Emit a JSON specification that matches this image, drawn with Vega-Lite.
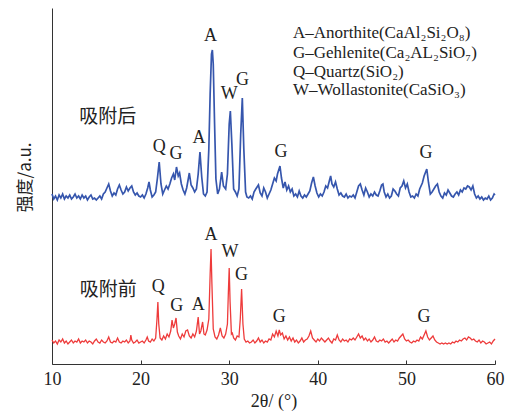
{
  "$schema": "https://vega.github.io/schema/vega-lite/v6.json",
  "width": 443,
  "height": 356,
  "autosize": {"type": "none"},
  "padding": {"left": 52, "top": 8, "right": 16, "bottom": 47},
  "background": "white",
  "config": {"view": {"stroke": null}},
  "datasets": {
    "blue": [
      {"x":10.0,"y":170},{"x":10.2,"y":165},{"x":10.4,"y":168},{"x":10.6,"y":164},{"x":10.8,"y":169},{"x":11.0,"y":166},{"x":11.2,"y":170},{"x":11.4,"y":165},{"x":11.6,"y":168},{"x":11.8,"y":166},
      {"x":12.0,"y":169},{"x":12.2,"y":165},{"x":12.4,"y":167},{"x":12.6,"y":170},{"x":12.8,"y":166},{"x":13.0,"y":168},{"x":13.2,"y":165},{"x":13.4,"y":169},{"x":13.6,"y":166},{"x":13.8,"y":168},
      {"x":14.0,"y":164},{"x":14.2,"y":167},{"x":14.4,"y":169},{"x":14.6,"y":165},{"x":14.8,"y":166},{"x":15.0,"y":164},{"x":15.2,"y":166},{"x":15.4,"y":168},{"x":15.6,"y":165},{"x":15.8,"y":170},
      {"x":16.0,"y":172},{"x":16.2,"y":176},{"x":16.4,"y":180},{"x":16.6,"y":173},{"x":16.8,"y":168},{"x":17.0,"y":171},{"x":17.2,"y":169},{"x":17.4,"y":175},{"x":17.6,"y":179},{"x":17.8,"y":174},
      {"x":18.0,"y":170},{"x":18.2,"y":172},{"x":18.4,"y":177},{"x":18.6,"y":173},{"x":18.8,"y":176},{"x":19.0,"y":178},{"x":19.2,"y":172},{"x":19.4,"y":169},{"x":19.6,"y":171},{"x":19.8,"y":168},
      {"x":20.0,"y":167},{"x":20.2,"y":169},{"x":20.4,"y":166},{"x":20.6,"y":170},{"x":20.8,"y":176},{"x":20.95,"y":182},{"x":21.1,"y":174},{"x":21.3,"y":167},{"x":21.5,"y":169},{"x":21.7,"y":172},
      {"x":21.9,"y":186},{"x":22.1,"y":202},{"x":22.3,"y":180},{"x":22.5,"y":170},{"x":22.7,"y":174},{"x":22.9,"y":178},{"x":23.1,"y":175},{"x":23.3,"y":180},{"x":23.5,"y":186},{"x":23.7,"y":190},
      {"x":23.85,"y":184},{"x":24.05,"y":197},{"x":24.25,"y":188},{"x":24.4,"y":191},{"x":24.6,"y":180},{"x":24.8,"y":174},{"x":25.0,"y":170},{"x":25.2,"y":176},{"x":25.5,"y":191},{"x":25.7,"y":179},
      {"x":25.9,"y":176},{"x":26.1,"y":172},{"x":26.3,"y":175},{"x":26.5,"y":190},{"x":26.7,"y":212},{"x":26.9,"y":187},{"x":27.1,"y":170},{"x":27.3,"y":168},{"x":27.5,"y":172},{"x":27.7,"y":215},
      {"x":27.85,"y":270},{"x":28.0,"y":310},{"x":28.1,"y":314},{"x":28.2,"y":300},{"x":28.35,"y":240},{"x":28.5,"y":185},{"x":28.7,"y":170},{"x":28.9,"y":175},{"x":29.15,"y":192},{"x":29.35,"y":178},
      {"x":29.6,"y":175},{"x":29.8,"y":190},{"x":30.0,"y":240},{"x":30.13,"y":253},{"x":30.3,"y":220},{"x":30.5,"y":175},{"x":30.7,"y":172},{"x":30.9,"y":168},{"x":31.1,"y":175},{"x":31.3,"y":230},
      {"x":31.48,"y":266},{"x":31.65,"y":215},{"x":31.85,"y":172},{"x":32.0,"y":167},{"x":32.2,"y":166},{"x":32.4,"y":168},{"x":32.6,"y":165},{"x":32.8,"y":172},{"x":33.0,"y":175},{"x":33.3,"y":179},
      {"x":33.5,"y":171},{"x":33.7,"y":168},{"x":33.9,"y":176},{"x":34.1,"y":172},{"x":34.3,"y":166},{"x":34.5,"y":170},{"x":34.7,"y":174},{"x":34.9,"y":180},{"x":35.1,"y":186},{"x":35.3,"y":183},
      {"x":35.45,"y":190},{"x":35.73,"y":198},{"x":35.9,"y":186},{"x":36.1,"y":176},{"x":36.3,"y":182},{"x":36.5,"y":174},{"x":36.7,"y":178},{"x":36.9,"y":172},{"x":37.1,"y":175},{"x":37.3,"y":168},
      {"x":37.5,"y":170},{"x":37.7,"y":167},{"x":37.9,"y":173},{"x":38.1,"y":168},{"x":38.3,"y":166},{"x":38.5,"y":169},{"x":38.7,"y":167},{"x":38.9,"y":170},{"x":39.1,"y":173},{"x":39.3,"y":181},
      {"x":39.5,"y":187},{"x":39.7,"y":178},{"x":39.9,"y":171},{"x":40.1,"y":167},{"x":40.3,"y":170},{"x":40.5,"y":168},{"x":40.7,"y":172},{"x":40.9,"y":178},{"x":41.1,"y":176},{"x":41.3,"y":183},
      {"x":41.45,"y":188},{"x":41.6,"y":180},{"x":41.8,"y":177},{"x":42.0,"y":182},{"x":42.2,"y":175},{"x":42.4,"y":169},{"x":42.6,"y":171},{"x":42.8,"y":168},{"x":43.0,"y":167},{"x":43.2,"y":170},
      {"x":43.4,"y":166},{"x":43.6,"y":168},{"x":43.8,"y":167},{"x":44.0,"y":169},{"x":44.2,"y":166},{"x":44.4,"y":172},{"x":44.6,"y":178},{"x":44.8,"y":180},{"x":45.0,"y":174},{"x":45.2,"y":169},
      {"x":45.4,"y":176},{"x":45.6,"y":172},{"x":45.8,"y":167},{"x":46.0,"y":170},{"x":46.2,"y":168},{"x":46.4,"y":172},{"x":46.6,"y":169},{"x":46.8,"y":168},{"x":47.0,"y":173},{"x":47.2,"y":179},
      {"x":47.35,"y":180},{"x":47.5,"y":172},{"x":47.7,"y":167},{"x":47.9,"y":170},{"x":48.1,"y":166},{"x":48.3,"y":168},{"x":48.5,"y":175},{"x":48.7,"y":173},{"x":48.9,"y":170},{"x":49.1,"y":168},
      {"x":49.3,"y":176},{"x":49.5,"y":178},{"x":49.7,"y":183},{"x":49.9,"y":176},{"x":50.1,"y":180},{"x":50.3,"y":172},{"x":50.5,"y":167},{"x":50.7,"y":168},{"x":50.9,"y":166},{"x":51.1,"y":170},
      {"x":51.3,"y":168},{"x":51.5,"y":175},{"x":51.8,"y":181},{"x":52.0,"y":188},{"x":52.3,"y":195},{"x":52.5,"y":181},{"x":52.7,"y":170},{"x":52.9,"y":172},{"x":53.1,"y":175},{"x":53.3,"y":178},
      {"x":53.5,"y":180},{"x":53.7,"y":172},{"x":53.9,"y":168},{"x":54.1,"y":166},{"x":54.3,"y":171},{"x":54.5,"y":169},{"x":54.7,"y":174},{"x":54.9,"y":171},{"x":55.1,"y":168},{"x":55.3,"y":167},
      {"x":55.5,"y":170},{"x":55.7,"y":172},{"x":55.9,"y":169},{"x":56.1,"y":174},{"x":56.3,"y":172},{"x":56.5,"y":176},{"x":56.7,"y":175},{"x":56.9,"y":178},{"x":57.1,"y":177},{"x":57.3,"y":174},
      {"x":57.5,"y":178},{"x":57.7,"y":170},{"x":57.9,"y":166},{"x":58.1,"y":168},{"x":58.3,"y":165},{"x":58.5,"y":167},{"x":58.7,"y":164},{"x":58.9,"y":166},{"x":59.1,"y":165},{"x":59.3,"y":168},
      {"x":59.5,"y":164},{"x":59.7,"y":166},{"x":59.9,"y":170},{"x":60.0,"y":169}
    ],
    "red": [
      {"x":10.0,"y":24},{"x":10.2,"y":21},{"x":10.4,"y":23},{"x":10.6,"y":20},{"x":10.8,"y":24},{"x":11.0,"y":22},{"x":11.2,"y":25},{"x":11.4,"y":21},{"x":11.6,"y":23},{"x":11.8,"y":20},
      {"x":12.0,"y":22},{"x":12.2,"y":24},{"x":12.4,"y":21},{"x":12.6,"y":23},{"x":12.8,"y":22},{"x":13.0,"y":25},{"x":13.2,"y":21},{"x":13.4,"y":23},{"x":13.6,"y":22},{"x":13.8,"y":24},
      {"x":14.0,"y":21},{"x":14.2,"y":23},{"x":14.4,"y":22},{"x":14.6,"y":20},{"x":14.8,"y":23},{"x":15.0,"y":25},{"x":15.2,"y":22},{"x":15.4,"y":21},{"x":15.6,"y":24},{"x":15.8,"y":22},
      {"x":16.0,"y":21},{"x":16.2,"y":23},{"x":16.4,"y":27},{"x":16.6,"y":22},{"x":16.8,"y":21},{"x":17.0,"y":23},{"x":17.2,"y":22},{"x":17.4,"y":26},{"x":17.6,"y":22},{"x":17.8,"y":21},
      {"x":18.0,"y":23},{"x":18.2,"y":22},{"x":18.4,"y":24},{"x":18.6,"y":21},{"x":18.8,"y":23},{"x":18.9,"y":29},{"x":19.0,"y":24},{"x":19.2,"y":21},{"x":19.4,"y":22},{"x":19.6,"y":24},
      {"x":19.8,"y":21},{"x":20.0,"y":22},{"x":20.2,"y":23},{"x":20.4,"y":21},{"x":20.6,"y":24},{"x":20.75,"y":27},{"x":20.9,"y":23},{"x":21.1,"y":22},{"x":21.3,"y":25},{"x":21.5,"y":23},
      {"x":21.7,"y":26},{"x":21.85,"y":45},{"x":21.95,"y":62},{"x":22.05,"y":40},{"x":22.2,"y":26},{"x":22.4,"y":24},{"x":22.6,"y":28},{"x":22.8,"y":25},{"x":23.0,"y":30},{"x":23.2,"y":27},
      {"x":23.4,"y":33},{"x":23.55,"y":44},{"x":23.7,"y":36},{"x":23.85,"y":40},{"x":24.0,"y":46},{"x":24.15,"y":32},{"x":24.3,"y":28},{"x":24.5,"y":25},{"x":24.7,"y":30},{"x":24.9,"y":27},
      {"x":25.1,"y":33},{"x":25.3,"y":34},{"x":25.5,"y":28},{"x":25.7,"y":26},{"x":25.9,"y":30},{"x":26.1,"y":27},{"x":26.3,"y":33},{"x":26.5,"y":47},{"x":26.65,"y":30},{"x":26.8,"y":33},
      {"x":27.0,"y":42},{"x":27.15,"y":30},{"x":27.3,"y":29},{"x":27.5,"y":34},{"x":27.7,"y":45},{"x":27.85,"y":90},{"x":27.95,"y":115},{"x":28.05,"y":80},{"x":28.2,"y":35},{"x":28.4,"y":27},
      {"x":28.6,"y":25},{"x":28.8,"y":29},{"x":29.0,"y":36},{"x":29.2,"y":28},{"x":29.4,"y":26},{"x":29.6,"y":30},{"x":29.8,"y":40},{"x":29.9,"y":70},{"x":30.0,"y":96},{"x":30.1,"y":62},
      {"x":30.25,"y":30},{"x":30.35,"y":31},{"x":30.5,"y":26},{"x":30.7,"y":24},{"x":30.9,"y":28},{"x":31.1,"y":27},{"x":31.25,"y":45},{"x":31.4,"y":75},{"x":31.55,"y":40},{"x":31.7,"y":25},
      {"x":31.9,"y":22},{"x":32.1,"y":23},{"x":32.3,"y":21},{"x":32.5,"y":22},{"x":32.7,"y":24},{"x":32.9,"y":21},{"x":33.1,"y":23},{"x":33.3,"y":26},{"x":33.5,"y":22},{"x":33.7,"y":24},
      {"x":33.9,"y":21},{"x":34.1,"y":23},{"x":34.3,"y":22},{"x":34.5,"y":25},{"x":34.7,"y":24},{"x":34.9,"y":30},{"x":35.1,"y":27},{"x":35.3,"y":33},{"x":35.5,"y":28},{"x":35.65,"y":34},
      {"x":35.8,"y":29},{"x":36.0,"y":31},{"x":36.2,"y":25},{"x":36.4,"y":28},{"x":36.6,"y":24},{"x":36.8,"y":27},{"x":37.0,"y":23},{"x":37.2,"y":26},{"x":37.4,"y":22},{"x":37.6,"y":24},
      {"x":37.8,"y":21},{"x":38.0,"y":23},{"x":38.2,"y":26},{"x":38.4,"y":22},{"x":38.6,"y":24},{"x":38.8,"y":25},{"x":39.0,"y":28},{"x":39.2,"y":33},{"x":39.4,"y":26},{"x":39.6,"y":24},
      {"x":39.8,"y":22},{"x":40.0,"y":25},{"x":40.2,"y":23},{"x":40.4,"y":26},{"x":40.6,"y":24},{"x":40.8,"y":22},{"x":41.0,"y":24},{"x":41.2,"y":26},{"x":41.4,"y":23},{"x":41.6,"y":21},
      {"x":41.8,"y":25},{"x":42.0,"y":24},{"x":42.2,"y":29},{"x":42.4,"y":24},{"x":42.6,"y":22},{"x":42.8,"y":25},{"x":43.0,"y":23},{"x":43.2,"y":24},{"x":43.4,"y":22},{"x":43.6,"y":25},
      {"x":43.8,"y":24},{"x":44.0,"y":26},{"x":44.2,"y":24},{"x":44.4,"y":27},{"x":44.6,"y":30},{"x":44.8,"y":26},{"x":45.0,"y":28},{"x":45.2,"y":24},{"x":45.4,"y":26},{"x":45.6,"y":23},
      {"x":45.8,"y":25},{"x":46.0,"y":22},{"x":46.2,"y":24},{"x":46.4,"y":27},{"x":46.6,"y":23},{"x":46.8,"y":22},{"x":47.0,"y":24},{"x":47.2,"y":23},{"x":47.4,"y":25},{"x":47.6,"y":22},
      {"x":47.8,"y":23},{"x":48.0,"y":21},{"x":48.2,"y":23},{"x":48.4,"y":25},{"x":48.6,"y":22},{"x":48.8,"y":24},{"x":49.0,"y":23},{"x":49.2,"y":26},{"x":49.4,"y":28},{"x":49.6,"y":30},
      {"x":49.8,"y":25},{"x":50.0,"y":23},{"x":50.2,"y":24},{"x":50.4,"y":22},{"x":50.6,"y":21},{"x":50.8,"y":23},{"x":51.0,"y":22},{"x":51.2,"y":24},{"x":51.4,"y":23},{"x":51.6,"y":27},
      {"x":51.8,"y":25},{"x":52.0,"y":29},{"x":52.2,"y":33},{"x":52.4,"y":27},{"x":52.6,"y":24},{"x":52.8,"y":26},{"x":53.0,"y":28},{"x":53.2,"y":24},{"x":53.4,"y":22},{"x":53.6,"y":21},
      {"x":53.8,"y":20},{"x":54.0,"y":21},{"x":54.2,"y":20},{"x":54.4,"y":21},{"x":54.6,"y":20},{"x":54.8,"y":21},{"x":55.0,"y":20},{"x":55.2,"y":22},{"x":55.4,"y":21},{"x":55.6,"y":23},
      {"x":55.8,"y":22},{"x":56.0,"y":24},{"x":56.2,"y":23},{"x":56.4,"y":25},{"x":56.6,"y":26},{"x":56.8,"y":24},{"x":57.0,"y":27},{"x":57.2,"y":26},{"x":57.4,"y":24},{"x":57.6,"y":25},
      {"x":57.8,"y":23},{"x":58.0,"y":22},{"x":58.2,"y":24},{"x":58.4,"y":21},{"x":58.6,"y":23},{"x":58.8,"y":22},{"x":59.0,"y":20},{"x":59.2,"y":21},{"x":59.4,"y":22},{"x":59.6,"y":20},
      {"x":59.8,"y":23},{"x":60.0,"y":25}
    ],
    "peaks": [
      {"x":22.1,"y":217,"t":"Q"},{"x":24.0,"y":210,"t":"G"},{"x":26.6,"y":226,"t":"A"},{"x":27.9,"y":328,"t":"A"},
      {"x":30.0,"y":270,"t":"W"},{"x":31.5,"y":284,"t":"G"},{"x":35.85,"y":212,"t":"G"},{"x":52.2,"y":211,"t":"G"},
      {"x":22.0,"y":77,"t":"Q"},{"x":24.07,"y":58,"t":"G"},{"x":26.5,"y":59,"t":"A"},{"x":27.95,"y":129,"t":"A"},
      {"x":30.1,"y":112,"t":"W"},{"x":31.4,"y":89,"t":"G"},{"x":35.65,"y":47,"t":"G"},{"x":52.0,"y":47,"t":"G"}
    ],
    "names": [
      {"x":16.3,"y":247,"t":"吸附后"},{"x":16.35,"y":74,"t":"吸附前"}
    ],
    "legend": [
      {"x":37.2,"y":331,"t":"A–Anorthite(CaAl₂Si₂O₈)"},
      {"x":37.2,"y":311,"t":"G–Gehlenite(Ca₂AL₂SiO₇)"},
      {"x":37.2,"y":292,"t":"Q–Quartz(SiO₂)"},
      {"x":37.2,"y":274,"t":"W–Wollastonite(CaSiO₃)"}
    ]
  },
  "encoding": {
    "x": {
      "field": "x", "type": "quantitative",
      "scale": {"domain": [10, 60], "nice": false, "zero": false},
      "axis": {
        "title": "2θ/ (°)", "values": [10, 20, 30, 40, 50, 60], "grid": false,
        "domainColor": "#333", "tickColor": "#333", "tickSize": -4, "labelPadding": 10,
        "labelFont": "Liberation Serif", "labelFontSize": 18, "labelColor": "#222",
        "titleFont": "Liberation Serif", "titleFontSize": 18, "titleFontWeight": "normal", "titleColor": "#222",
        "titlePadding": 4, "labelFlush": false
      }
    },
    "y": {
      "field": "y", "type": "quantitative",
      "scale": {"domain": [0, 356], "nice": false, "zero": false},
      "axis": {
        "title": "强度/a.u.", "ticks": false, "labels": false, "grid": false,
        "domainColor": "#333",
        "titleFont": "Noto Sans CJK SC", "titleFontSize": 17, "titleFontWeight": "normal", "titleColor": "#222",
        "titlePadding": 18, "titleY": 169
      }
    }
  },
  "layer": [
    {"data": {"name": "red"}, "mark": {"type": "line", "color": "#ee3b3b", "strokeWidth": 1.3}},
    {"data": {"name": "blue"}, "mark": {"type": "line", "color": "#3656ad", "strokeWidth": 1.7}},
    {"data": {"name": "peaks"}, "mark": {"type": "text", "font": "Liberation Serif", "fontSize": 18, "color": "#222", "align": "center", "baseline": "middle"}, "encoding": {"text": {"field": "t"}}},
    {"data": {"name": "names"}, "mark": {"type": "text", "font": "Noto Sans CJK SC", "fontSize": 19, "color": "#222", "align": "center", "baseline": "middle"}, "encoding": {"text": {"field": "t"}}},
    {"data": {"name": "legend"}, "mark": {"type": "text", "font": "Liberation Serif", "fontSize": 17, "color": "#222", "align": "left", "baseline": "middle"}, "encoding": {"text": {"field": "t"}}}
  ]
}
